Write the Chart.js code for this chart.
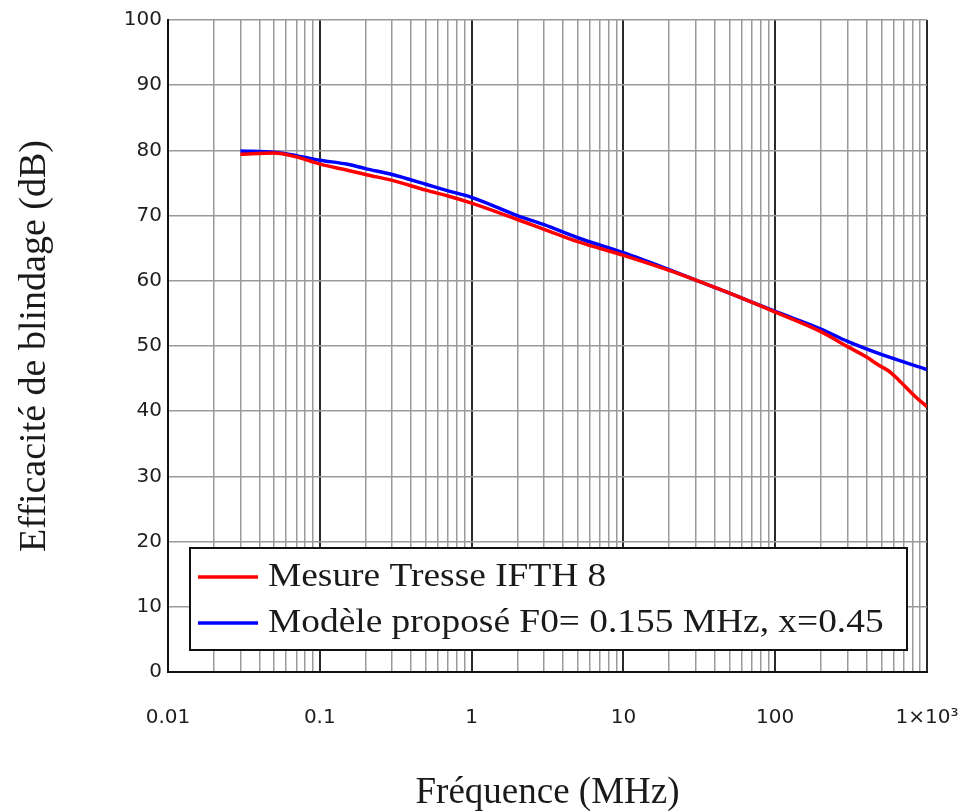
<!DOCTYPE html>
<html>
<head>
<meta charset="utf-8">
<script src="https://cdn.jsdelivr.net/npm/chart.js@4.4.1/dist/chart.umd.min.js"></script>
<style>
  html, body { margin: 0; padding: 0; background: #fff; }
  #wrap { width: 971px; height: 812px; }
</style>
</head>
<body>
<div id="wrap"><canvas id="c" width="971" height="812"></canvas></div>
<script>
// ---- Data ----
const seriesLabels = ["Mesure Tresse IFTH 8", "Modèle proposé F0= 0.155 MHz, x=0.45"];
const measureFreq = [0.03, 0.05, 0.07, 0.1, 0.15, 0.2, 0.3, 0.5, 0.7, 1, 2, 3, 5, 10, 20, 30, 50, 100, 200, 300, 400, 485, 557, 650, 850, 1000];
const measureDb   = [79.4, 79.6, 79.0, 77.9, 77.0, 76.3, 75.4, 73.9, 73.0, 71.9, 69.4, 67.9, 66.0, 63.9, 61.6, 60.1, 58.1, 55.2, 52.2, 49.9, 48.3, 47.0, 46.2, 44.8, 42.1, 40.7];
const modelFreq   = [0.03, 0.05, 0.07, 0.1, 0.15, 0.2, 0.3, 0.5, 0.7, 1, 2, 3, 5, 10, 20, 30, 50, 100, 200, 300, 500, 1000];
const modelDb     = [79.9, 79.7, 79.2, 78.5, 77.9, 77.2, 76.3, 74.8, 73.8, 72.8, 70.0, 68.6, 66.6, 64.3, 61.7, 60.1, 58.1, 55.3, 52.6, 50.7, 48.7, 46.4];
const xTickLabels = { 0.01: "0.01", 0.1: "0.1", 1: "1", 10: "10", 100: "100", 1000: "1×10³" };
const yMin = 0, yMax = 100, yStep = 10;
const xMin = 0.01, xMax = 1000;

const seriesColors = ["#ff0000", "#0000ff"];

function isDecade(v) {
  const l = Math.log10(v);
  return Math.abs(l - Math.round(l)) < 1e-9;
}

const legendPlugin = {
  id: 'insideLegend',
  afterDraw(chart, args, opts) {
    const ctx = chart.ctx;
    const a = chart.chartArea;
    const x0 = a.left + opts.left, y0 = a.top + opts.top;
    ctx.save();
    ctx.fillStyle = '#fff';
    ctx.fillRect(x0, y0, opts.width, opts.height);
    ctx.strokeStyle = '#111';
    ctx.lineWidth = 2;
    ctx.strokeRect(x0, y0, opts.width, opts.height);
    ctx.font = opts.font;
    ctx.textBaseline = 'middle';
    ctx.textAlign = 'left';
    chart.data.datasets.forEach((ds, i) => {
      const yy = y0 + opts.rowStart + i * opts.rowGap;
      ctx.strokeStyle = ds.borderColor;
      ctx.lineWidth = 3.5;
      ctx.beginPath();
      ctx.moveTo(x0 + 8, yy);
      ctx.lineTo(x0 + 68, yy);
      ctx.stroke();
      ctx.fillStyle = '#1a1a1a';
      ctx.save();
      ctx.translate(x0 + 78, yy);
      ctx.scale(opts.stretch, 1);
      ctx.fillText(ds.label, 0, 0);
      ctx.restore();
    });
    ctx.restore();
  }
};

const ctx = document.getElementById('c').getContext('2d');
new Chart(ctx, {
  type: 'line',
  data: {
    datasets: [
      {
        label: seriesLabels[0],
        data: measureFreq.map((f, i) => ({ x: f, y: measureDb[i] })),
        borderColor: seriesColors[0],
        borderWidth: 3.5,
        pointRadius: 0,
        cubicInterpolationMode: 'monotone',
        fill: false
      },
      {
        label: seriesLabels[1],
        data: modelFreq.map((f, i) => ({ x: f, y: modelDb[i] })),
        borderColor: seriesColors[1],
        borderWidth: 3.5,
        pointRadius: 0,
        cubicInterpolationMode: 'monotone',
        fill: false
      }
    ]
  },
  options: {
    responsive: false,
    animation: false,
    layout: { padding: { left: 0, right: 44, top: 20, bottom: 0 } },
    plugins: {
      legend: { display: false },
      tooltip: { enabled: false },
      insideLegend: {
        left: 22, top: 528, width: 717, height: 102,
        rowStart: 29, rowGap: 46, stretch: 1.1,
        font: '34px "Liberation Serif", "Times New Roman", serif'
      }
    },
    scales: {
      x: {
        type: 'logarithmic',
        min: xMin, max: xMax,
        afterBuildTicks(scale) {
          const t = [];
          for (let e = -2; e <= 3; e++) {
            for (let m = 1; m <= 9; m++) {
              const v = +(m * Math.pow(10, e)).toPrecision(6);
              if (v >= xMin && v <= xMax) t.push({ value: v });
            }
          }
          scale.ticks = t;
        },
        afterFit(scale) { scale.height = 140; scale.paddingLeft = 0; scale.paddingRight = 0; },
        ticks: {
          autoSkip: false, maxRotation: 0, minRotation: 0,
          padding: 34,
          color: '#1e1e1e',
          font: { family: '"DejaVu Sans", sans-serif', size: 20 },
          callback(v) { return isDecade(v) ? (xTickLabels[+(+v).toPrecision(6)] || '') : ''; }
        },
        grid: {
          drawTicks: false,
          color(c) { return c.tick && isDecade(c.tick.value) ? '#2a2a2a' : '#9a9a9a'; },
          lineWidth(c) { return c.tick && isDecade(c.tick.value) ? 2 : 1.5; }
        },
        border: { color: '#111', width: 2 },
        title: {
          display: true,
          text: 'Fréquence (MHz)',
          color: '#1a1a1a',
          font: { family: '"Liberation Serif", "Times New Roman", serif', size: 37, lineHeight: 1 },
          padding: { top: 0, bottom: 0 }
        }
      },
      y: {
        min: yMin, max: yMax,
        afterFit(scale) { scale.width = 168; },
        ticks: {
          stepSize: yStep,
          padding: 6,
          color: '#1e1e1e',
          font: { family: '"DejaVu Sans", sans-serif', size: 20 }
        },
        grid: {
          drawTicks: false,
          color: '#9a9a9a',
          lineWidth: 1.5
        },
        border: { color: '#111', width: 2 },
        title: {
          display: true,
          text: 'Efficacité de blindage (dB)',
          color: '#1a1a1a',
          font: { family: '"Liberation Serif", "Times New Roman", serif', size: 38, lineHeight: 1 },
          padding: { top: 16, bottom: 0 }
        }
      }
    }
  },
  plugins: [legendPlugin]
});
</script>
</body>
</html>
